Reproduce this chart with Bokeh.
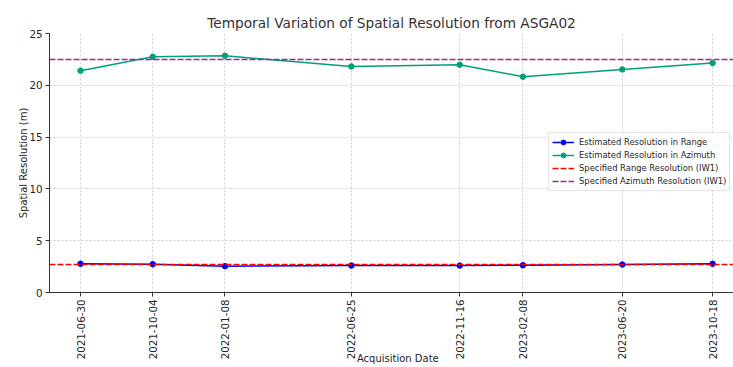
import math
import pandas as pd
from bokeh.plotting import figure
from bokeh.models import (Range1d, FixedTicker, DatetimeTickFormatter, Legend,
                          LegendItem)
from bokeh.embed import file_html
from bokeh.resources import INLINE

# ---- data ----
dates = ["2021-06-30", "2021-10-04", "2022-01-08", "2022-06-25",
         "2022-11-16", "2023-02-08", "2023-06-20", "2023-10-18"]
range_res = [2.77, 2.73, 2.54, 2.60, 2.60, 2.63, 2.70, 2.77]
azimuth_res = [21.41, 22.76, 22.85, 21.82, 21.99, 20.83, 21.53, 22.15]
spec_range_res = 2.7
spec_azimuth_res = 22.5
y_ticks = [0, 5, 10, 15, 20, 25]

x = [d.to_pydatetime() for d in pd.to_datetime(dates)]
t0 = pd.Timestamp(dates[0])
x_start = (t0 - pd.Timedelta(days=41.2)).to_pydatetime()
x_end = (t0 + pd.Timedelta(days=867.8)).to_pydatetime()
tick_ms = [pd.Timestamp(d).timestamp() * 1000 for d in dates]

FONT = "DejaVu Sans"
TXT = "#262626"

p = figure(width=733, height=367, x_axis_type="datetime",
           x_range=Range1d(x_start, x_end), y_range=Range1d(0, 25),
           output_backend="svg", toolbar_location=None,
           min_border_left=49, min_border_right=0, min_border_top=33,
           min_border_bottom=75)
p.outline_line_color = None
p.background_fill_color = "white"
p.border_fill_color = "white"

p.title.text = "Temporal Variation of Spatial Resolution from ASGA02"
p.title.align = "center"
p.title.text_font = FONT
p.title.text_font_size = "13.7px"
p.title.text_font_style = "normal"
p.title.text_color = "#333333"
p.title.standoff = 6
p.title.offset = 6

# axes
p.xaxis.ticker = FixedTicker(ticks=tick_ms)
fmt = "%Y-%m-%d"
p.xaxis.formatter = DatetimeTickFormatter(
    microseconds=fmt, milliseconds=fmt, seconds=fmt, minsec=fmt, minutes=fmt,
    hourmin=fmt, hours=fmt, days=fmt, months=fmt, years=fmt, context=None)
p.xaxis.major_label_orientation = math.pi / 2
# leading no-break spaces nudge the label right, to the axes' true centre
p.xaxis.axis_label = "\u00a0" * 4 + "Acquisition Date"
p.yaxis.ticker = FixedTicker(ticks=y_ticks)
p.yaxis.axis_label = "Spatial Resolution (m)"
for ax in (p.xaxis, p.yaxis):
    ax.major_label_text_font = FONT
    ax.major_label_text_font_size = "10.3px"
    ax.major_label_text_color = TXT
    ax.axis_label_text_font = FONT
    ax.axis_label_text_font_size = "10px"
    ax.axis_label_text_font_style = "normal"
    ax.axis_label_text_color = TXT
    ax.major_tick_out = 4
    ax.major_tick_in = 0
    ax.minor_tick_out = 0
    ax.minor_tick_in = 0
    ax.major_label_standoff = 3
    ax.axis_line_color = "#333333"
    ax.major_tick_line_color = "#333333"
p.yaxis.axis_label_standoff = -3
p.xaxis.axis_label_standoff = -9

# grids
p.xgrid.ticker = FixedTicker(ticks=tick_ms)
p.ygrid.ticker = FixedTicker(ticks=y_ticks)
for g in (p.xgrid, p.ygrid):
    g.grid_line_color = "#cfcfcf"
    g.grid_line_dash = "2 2"
    g.grid_line_width = 1

# series
BLUE = "#0000ff"
GREEN = "#00a07a"
l1 = p.line(x, range_res, line_color=BLUE, line_width=1.5)
s1 = p.scatter(x, range_res, size=5.5, fill_color=BLUE, line_color=BLUE)
l2 = p.line(x, azimuth_res, line_color=GREEN, line_width=1.5)
s2 = p.scatter(x, azimuth_res, size=5.5, fill_color=GREEN, line_color=GREEN)
h1 = p.line([x_start, x_end], [spec_range_res, spec_range_res],
            line_color="red", line_width=1.5, line_dash="6 2")
h2 = p.line([x_start, x_end], [spec_azimuth_res, spec_azimuth_res],
            line_color="#9a2a9a", line_width=1.5, line_dash="6 2")

legend = Legend(items=[
    LegendItem(label="Estimated Resolution in Range", renderers=[l1, s1]),
    LegendItem(label="Estimated Resolution in Azimuth", renderers=[l2, s2]),
    LegendItem(label="Specified Range Resolution (IW1)", renderers=[h1]),
    LegendItem(label="Specified Azimuth Resolution (IW1)", renderers=[h2]),
], location=(499, 101))
legend.label_text_font = FONT
legend.label_text_font_size = "8.4px"
legend.label_text_color = TXT
legend.label_height = 12
legend.glyph_height = 12
legend.glyph_width = 22
legend.label_standoff = 5
legend.spacing = 1
legend.padding = 3
legend.margin = 0
legend.border_line_color = "#cccccc"
legend.background_fill_color = "white"
legend.background_fill_alpha = 0.85
p.add_layout(legend)

open("out.html", "w").write(file_html(p, INLINE))
